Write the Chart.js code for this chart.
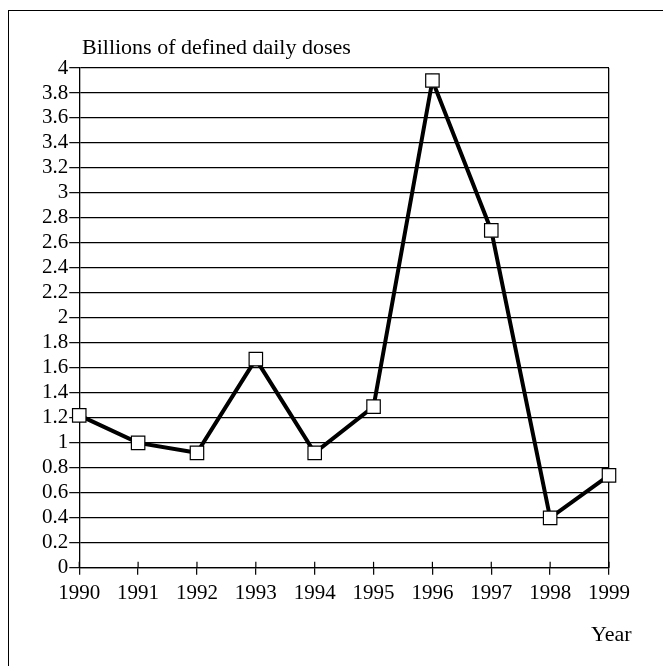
<!DOCTYPE html>
<html>
<head>
<meta charset="utf-8">
<script src="https://cdn.jsdelivr.net/npm/chart.js@4.4.0/dist/chart.umd.min.js"></script>
<style>
  html, body { margin: 0; padding: 0; background: #fff; overflow: hidden; }
  body { width: 663px; height: 666px; position: relative; font-family: "Liberation Serif", "DejaVu Serif", serif; }
  #frame { position: absolute; left: 8px; top: 10px; width: 720px; height: 720px; border-top: 1.5px solid #000; border-left: 1.5px solid #000; }
  #wrap { position: absolute; left: 0; top: 0; width: 663px; height: 666px; }
  .lbl { position: absolute; font-size: 22px; line-height: 22px; color: #000; white-space: nowrap; }
  #ytitle { left: 82px; top: 36px; }
  #xtitle { left: 591px; top: 623px; }
</style>
</head>
<body>
<div id="frame"></div>
<div id="wrap"><canvas id="c" width="663" height="666"></canvas></div>
<div class="lbl" id="ytitle">Billions of defined daily doses</div>
<div class="lbl" id="xtitle">Year</div>
<script>
const years = ['1990','1991','1992','1993','1994','1995','1996','1997','1998','1999'];
const doses = [1.22, 1.0, 0.92, 1.67, 0.92, 1.29, 3.90, 2.70, 0.40, 0.74];
const yTickLabels = ['0','0.2','0.4','0.6','0.8','1','1.2','1.4','1.6','1.8','2','2.2','2.4','2.6','2.8','3','3.2','3.4','3.6','3.8','4'];

const crossTicks = {
  id: 'crossTicks',
  afterDraw(chart) {
    const x = chart.scales.x;
    const ctx = chart.ctx;
    ctx.save();
    ctx.strokeStyle = '#000';
    ctx.lineWidth = 1.2;
    for (let i = 0; i < years.length; i++) {
      const px = x.getPixelForTick(i);
      ctx.beginPath();
      ctx.moveTo(px, x.top);
      ctx.lineTo(px, x.top - 6);
      ctx.stroke();
    }
    ctx.restore();
  }
};

Chart.defaults.font.family = '"Liberation Serif", "DejaVu Serif", serif';
Chart.defaults.font.size = 21;
Chart.defaults.color = '#000';

new Chart(document.getElementById('c'), {
  type: 'line',
  data: {
    labels: years,
    datasets: [{
      data: doses,
      borderColor: '#000',
      borderWidth: 4,
      tension: 0,
      pointStyle: 'rect',
      pointRadius: 9.5,
      pointHoverRadius: 9.5,
      pointBackgroundColor: '#fff',
      pointBorderColor: '#000',
      pointBorderWidth: 1.2
    }]
  },
  options: {
    responsive: false,
    animation: false,
    events: [],
    layout: { padding: { top: 68, left: 41, right: 54, bottom: 54 } },
    plugins: { legend: { display: false }, tooltip: { enabled: false }, title: { display: false } },
    scales: {
      x: {
        offset: false,
        grid: {
          color: ctx => (ctx.index === years.length - 1 ? '#000' : 'rgba(0,0,0,0)'),
          lineWidth: 1.3,
          drawOnChartArea: true,
          drawTicks: true,
          tickLength: 7,
          tickColor: '#000',
          tickWidth: 1.2
        },
        border: { display: true, color: '#000', width: 1.3 },
        ticks: { padding: 6, maxRotation: 0, autoSkip: false }
      },
      y: {
        min: 0,
        max: 4,
        grid: {
          color: '#000',
          lineWidth: 1.3,
          tickLength: 10,
          tickColor: '#000',
          tickWidth: 1.2
        },
        border: { display: true, color: '#000', width: 1.3 },
        ticks: {
          stepSize: 0.2,
          padding: 1,
          autoSkip: false,
          callback: (v, i) => yTickLabels[i]
        }
      }
    }
  },
  plugins: [crossTicks]
});
</script>
</body>
</html>
